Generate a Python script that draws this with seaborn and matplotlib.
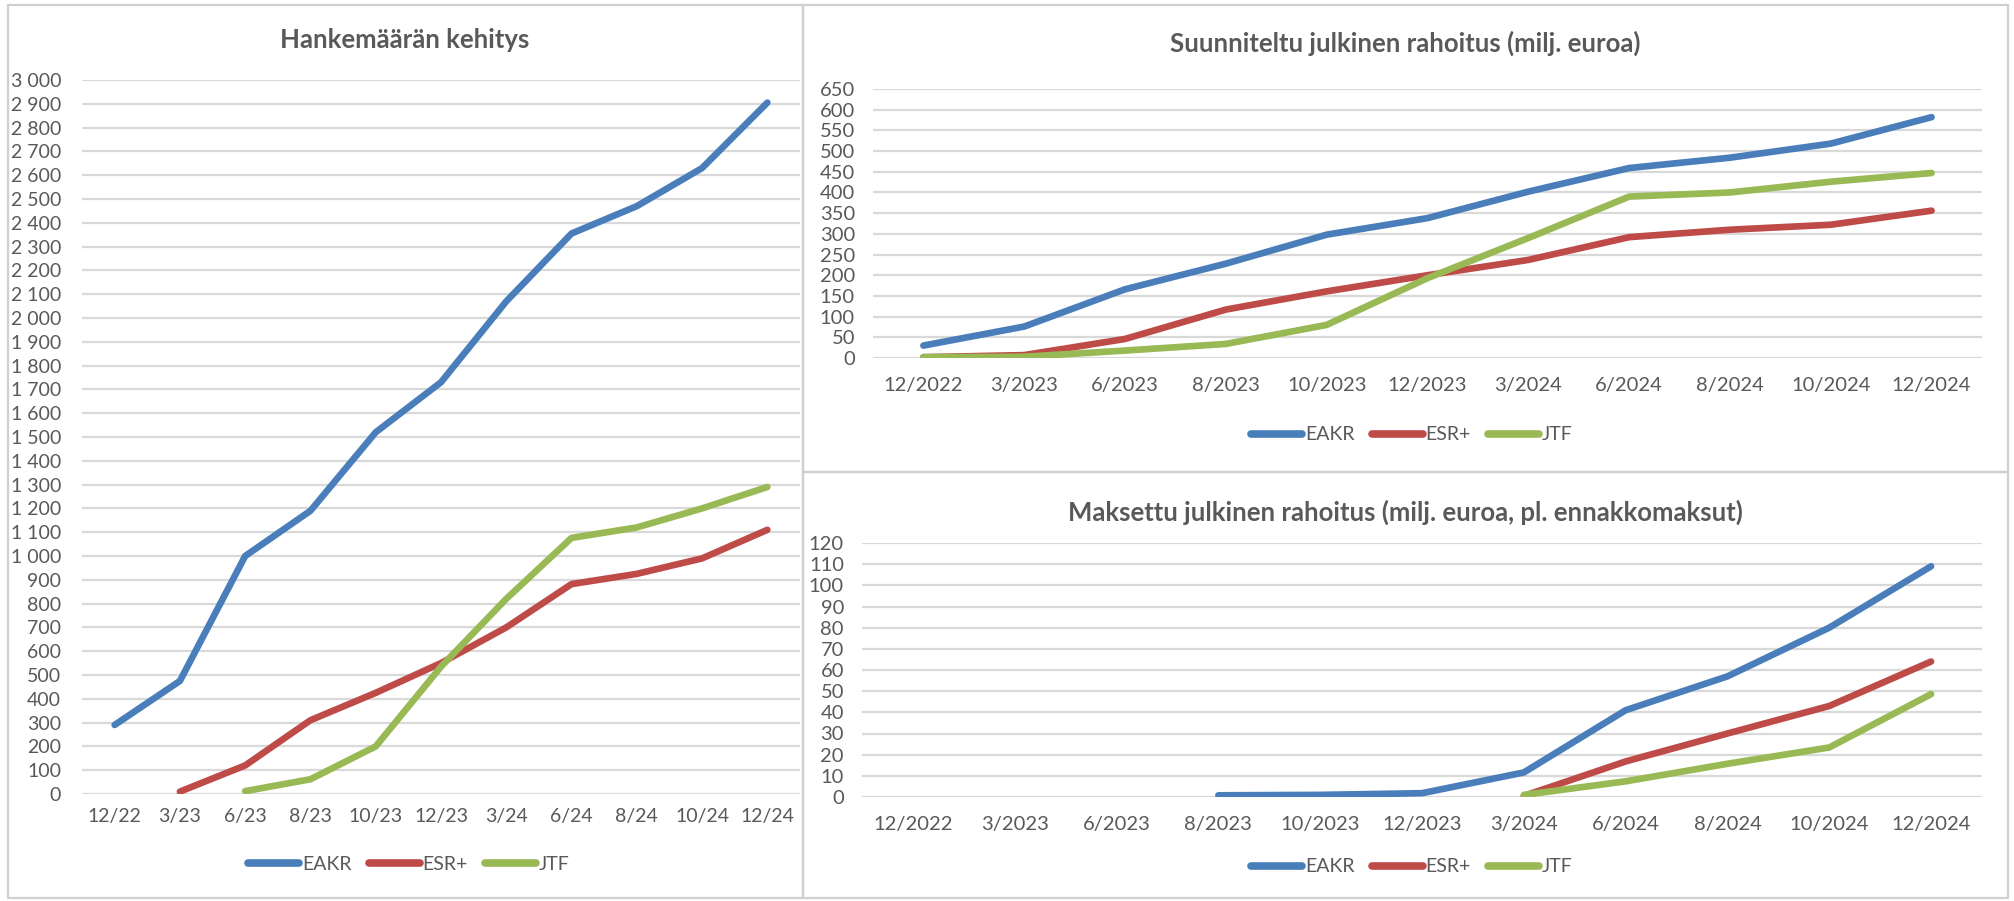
import numpy as np
import pandas as pd
import matplotlib
matplotlib.use("Agg")
import matplotlib.pyplot as plt
from matplotlib.patches import Rectangle
import seaborn as sns

# Aikapisteet
labels_short = ["12/22", "3/23", "6/23", "8/23", "10/23", "12/23",
                "3/24", "6/24", "8/24", "10/24", "12/24"]
labels_long = ["12/2022", "3/2023", "6/2023", "8/2023", "10/2023", "12/2023",
               "3/2024", "6/2024", "8/2024", "10/2024", "12/2024"]
funds = ["EAKR", "ESR+", "JTF"]

# Hankemäärän kehitys
count_eakr = [290, 475, 1000, 1190, 1520, 1730, 2070, 2355, 2470, 2630, 2905]
count_esr = [np.nan, 10, 120, 310, 425, 550, 700, 882, 925, 990, 1110]
count_jtf = [np.nan, np.nan, 12, 62, 200, 535, 820, 1076, 1120, 1200, 1290]

# Suunniteltu julkinen rahoitus (milj. euroa)
plan_eakr = [30, 76, 166, 228, 298, 338, 402, 459, 484, 518, 582]
plan_esr = [2, 7, 46, 117, 161, 200, 237, 292, 310, 322, 356]
plan_jtf = [2, 3, 18, 34, 80, 193, 290, 390, 400, 426, 447]

# Maksettu julkinen rahoitus (milj. euroa, pl. ennakkomaksut)
paid_eakr = [np.nan, np.nan, np.nan, 0.8, 1.0, 1.8, 11.6, 41, 57, 80, 109]
paid_esr = [np.nan, np.nan, np.nan, np.nan, np.nan, np.nan, 0.5, 16.8, 30, 43, 64]
paid_jtf = [np.nan, np.nan, np.nan, np.nan, np.nan, np.nan, 1.0, 7.4, 15.7, 23.4, 48.6]

colors = {"EAKR": "#4A7EBB", "ESR+": "#BE4B48", "JTF": "#98B954"}
text_gray = "#595959"
grid_gray = "#D9D9D9"


def to_long(series):
    rows = []
    for fund, values in zip(funds, series):
        for i, v in enumerate(values):
            rows.append({"pos": i, "value": v, "fund": fund})
    return pd.DataFrame(rows).dropna()


def fmt_thousands(v):
    return f"{v:,.0f}".replace(",", " ")


sns.set_theme(style="white")
plt.rcParams["font.family"] = ["Lato", "DejaVu Sans"]

W, H = 2015, 901
fig = plt.figure(figsize=(W / 100, H / 100), dpi=100)


def px_axes(x0, x1, y_top, y_bot):
    return fig.add_axes([x0 / W, 1 - y_bot / H, (x1 - x0) / W, (y_bot - y_top) / H])


def draw_panel(ax, df, ymax, step, xlabels, xpad, ypad, fs, title, title_xy, legend_xy):
    sns.lineplot(data=df, x="pos", y="value", hue="fund", hue_order=funds,
                 palette=colors, linewidth=4.8, ax=ax, sort=True,
                 solid_capstyle="round")
    ax.set_xlim(-0.5, len(xlabels) - 0.5)
    ax.set_ylim(0, ymax)
    ticks = np.arange(0, ymax + step, step)
    ax.set_yticks(ticks)
    ax.set_yticklabels([fmt_thousands(v) for v in ticks])
    ax.set_xticks(range(len(xlabels)))
    ax.set_xticklabels(xlabels)
    ax.set_xlabel("")
    ax.set_ylabel("")
    ax.grid(axis="y", color=grid_gray, linewidth=1.6)
    ax.set_axisbelow(True)
    for s in ax.spines.values():
        s.set_visible(False)
    ax.tick_params(axis="x", length=0, pad=xpad, labelsize=fs, labelcolor=text_gray)
    ax.tick_params(axis="y", length=0, pad=ypad, labelsize=fs, labelcolor=text_gray)
    fig.text(title_xy[0] / W, 1 - title_xy[1] / H, title, ha="center", va="center",
             fontsize=18.5, fontweight="bold", color=text_gray)
    leg = ax.legend(loc="center", bbox_to_anchor=(legend_xy[0] / W, 1 - legend_xy[1] / H),
                    bbox_transform=fig.transFigure, ncol=3, frameon=False,
                    fontsize=14, handlelength=2.6, handletextpad=0.15,
                    columnspacing=0.9, title=None)
    for t in leg.get_texts():
        t.set_color(text_gray)
    for line in leg.get_lines():
        line.set_linewidth(5.5)


# Paneelien kehykset
for (x0, y0, x1, y1) in [(8, 5, 803, 898), (803, 5, 2008, 472), (803, 472, 2008, 898)]:
    fig.add_artist(Rectangle((x0 / W, 1 - y1 / H), (x1 - x0) / W, (y1 - y0) / H,
                             transform=fig.transFigure, fill=False,
                             edgecolor="#D0D0D0", linewidth=1.6))

ax1 = px_axes(82, 800, 80, 794)
draw_panel(ax1, to_long([count_eakr, count_esr, count_jtf]), 3000, 100, labels_short,
           xpad=10, ypad=15, fs=14, title="Hankemäärän kehitys",
           title_xy=(405, 40), legend_xy=(409, 864))

ax2 = px_axes(873, 1982, 89, 358)
draw_panel(ax2, to_long([plan_eakr, plan_esr, plan_jtf]), 650, 50, labels_long,
           xpad=14, ypad=13, fs=14.5, title="Suunniteltu julkinen rahoitus (milj. euroa)",
           title_xy=(1405, 43), legend_xy=(1412, 435))

ax3 = px_axes(862, 1982, 543, 797)
draw_panel(ax3, to_long([paid_eakr, paid_esr, paid_jtf]), 120, 10, labels_long,
           xpad=14, ypad=13, fs=14.5,
           title="Maksettu julkinen rahoitus (milj. euroa, pl. ennakkomaksut)",
           title_xy=(1405, 512), legend_xy=(1412, 867))

fig.savefig("out.png", dpi=100, facecolor="white")
